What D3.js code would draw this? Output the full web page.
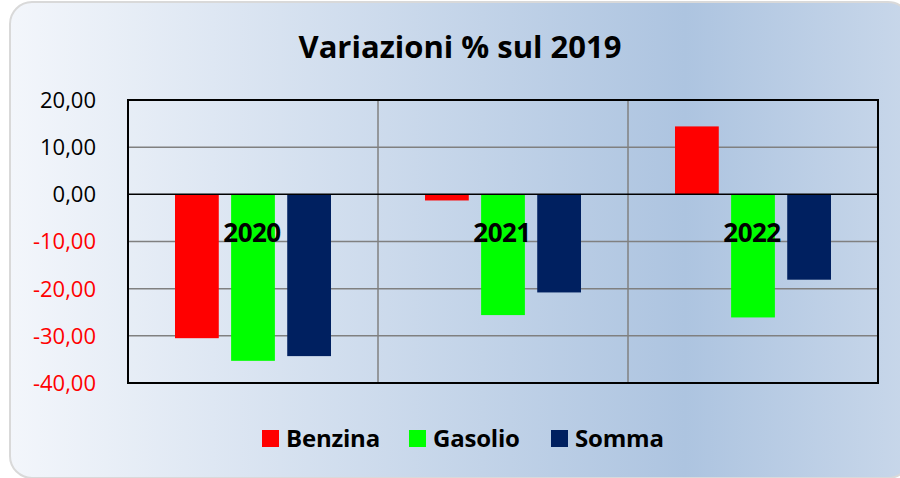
<!DOCTYPE html>
<html>
<head>
<meta charset="utf-8">
<script src="https://cdn.jsdelivr.net/npm/d3@7"></script>
<style>
  body { margin: 0; background: #ffffff; }
  svg { display: block; }
</style>
</head>
<body>
<div id="chart"></div>
<script>
var years = ["2020", "2021", "2022"];
var seriesKeys = ["Benzina", "Gasolio", "Somma"];
var benzina = [-30.5, -1.3, 14.4];
var gasolio = [-35.3, -25.6, -26.1];
var somma = [-34.3, -20.8, -18.1];
var yTicks = [20, 10, 0, -10, -20, -30, -40];
var colors = ["#ff0000", "#00ff00", "#002060"];

var data = years.map(function(y, i) {
  return {year: y, Benzina: benzina[i], Gasolio: gasolio[i], Somma: somma[i]};
});

var W = 900, H = 478,
    margin = {top: 100, left: 128, right: 22, bottom: 95},
    width = W - margin.left - margin.right,
    height = H - margin.top - margin.bottom;

var svg = d3.select("#chart").append("svg")
    .attr("width", W)
    .attr("height", H);

var defs = svg.append("defs");
var grad = defs.append("linearGradient")
    .attr("id", "bg")
    .attr("x1", "0%").attr("x2", "100%").attr("y1", "0%").attr("y2", "0%");
grad.append("stop").attr("offset", "0%").attr("stop-color", "#f3f6fb");
grad.append("stop").attr("offset", "75%").attr("stop-color", "#adc4e0");
grad.append("stop").attr("offset", "100%").attr("stop-color", "#c8d7ea");

svg.append("rect")
    .attr("x", 10).attr("y", 2)
    .attr("width", 900).attr("height", 476)
    .attr("rx", 22)
    .style("fill", "url(#bg)")
    .style("stroke", "#d9d9d9")
    .style("stroke-width", 2);

svg.append("text")
    .attr("x", 460).attr("y", 58)
    .attr("text-anchor", "middle")
    .style("font-family", "'Open Sans', sans-serif")
    .style("font-weight", "bold")
    .style("font-size", "31px")
    .text("Variazioni % sul 2019");

var g = svg.append("g")
    .attr("transform", "translate(" + margin.left + "," + margin.top + ")");

var x0 = d3.scaleBand().domain(years).range([0, width]);
var x1 = d3.scaleBand().domain(seriesKeys).range([47, 203]).paddingInner(0.22);
var y = d3.scaleLinear().domain([-40, 20]).range([height, 0]);

// horizontal gridlines
g.append("g")
    .selectAll("line")
    .data(yTicks.filter(function(t) { return t !== 20 && t !== -40 && t !== 0; }))
    .enter().append("line")
    .attr("x1", 0).attr("x2", width)
    .attr("y1", function(d) { return y(d); })
    .attr("y2", function(d) { return y(d); })
    .style("stroke", "#808080").style("stroke-width", 1.5);

// vertical gridlines between categories
g.append("g")
    .selectAll("line")
    .data(years.slice(1))
    .enter().append("line")
    .attr("x1", function(d) { return x0(d); })
    .attr("x2", function(d) { return x0(d); })
    .attr("y1", 0).attr("y2", height)
    .style("stroke", "#808080").style("stroke-width", 1.5);

// bars
var groups = g.selectAll(".grp")
    .data(data)
    .enter().append("g")
    .attr("class", "grp")
    .attr("transform", function(d) { return "translate(" + x0(d.year) + ",0)"; });

groups.selectAll("rect")
    .data(function(d) { return seriesKeys.map(function(k, i) { return {key: k, value: d[k], i: i}; }); })
    .enter().append("rect")
    .attr("x", function(d) { return x1(d.key); })
    .attr("width", x1.bandwidth())
    .attr("y", function(d) { return y(Math.max(0, d.value)); })
    .attr("height", function(d) { return Math.abs(y(d.value) - y(0)); })
    .style("fill", function(d) { return colors[d.i]; });

// zero line
g.append("line")
    .attr("x1", 0).attr("x2", width)
    .attr("y1", y(0)).attr("y2", y(0))
    .style("stroke", "#000").style("stroke-width", 1.5);

// plot border
g.append("rect")
    .attr("x", 0).attr("y", 0)
    .attr("width", width).attr("height", height)
    .style("fill", "none")
    .style("stroke", "#000").style("stroke-width", 2);

// category labels
g.selectAll(".cat")
    .data(years)
    .enter().append("text")
    .attr("class", "cat")
    .attr("x", function(d) { return x0(d) + x0.bandwidth() / 2 - 1; })
    .attr("y", 142)
    .attr("text-anchor", "middle")
    .style("font-family", "'Open Sans', sans-serif")
    .style("font-weight", "bold")
    .style("font-size", "26px")
    .style("letter-spacing", "-0.5px")
    .text(function(d) { return d; });

// y axis labels
var fmt = function(v) { return d3.format(".2f")(v).replace(".", ",").replace("−", "-"); };
g.selectAll(".ytick")
    .data(yTicks)
    .enter().append("text")
    .attr("class", "ytick")
    .attr("x", -32)
    .attr("y", function(d) { return y(d); })
    .attr("dy", "0.36em")
    .attr("text-anchor", "end")
    .style("font-family", "'Open Sans', sans-serif")
    .style("font-size", "22px")
    .style("fill", function(d) { return d < 0 ? "#ff0000" : "#000"; })
    .text(fmt);

// legend
var legendX = [262, 409, 551];
var legend = svg.selectAll(".legend")
    .data(seriesKeys)
    .enter().append("g")
    .attr("class", "legend")
    .attr("transform", function(d, i) { return "translate(" + legendX[i] + ",430)"; });

legend.append("rect")
    .attr("width", 17).attr("height", 17)
    .style("fill", function(d, i) { return colors[i]; });

legend.append("text")
    .attr("x", 24).attr("y", 17)
    .style("font-family", "'Open Sans', sans-serif")
    .style("font-weight", "bold")
    .style("font-size", "24px")
    .style("letter-spacing", "-0.2px")
    .text(function(d) { return d; });
</script>
</body>
</html>
